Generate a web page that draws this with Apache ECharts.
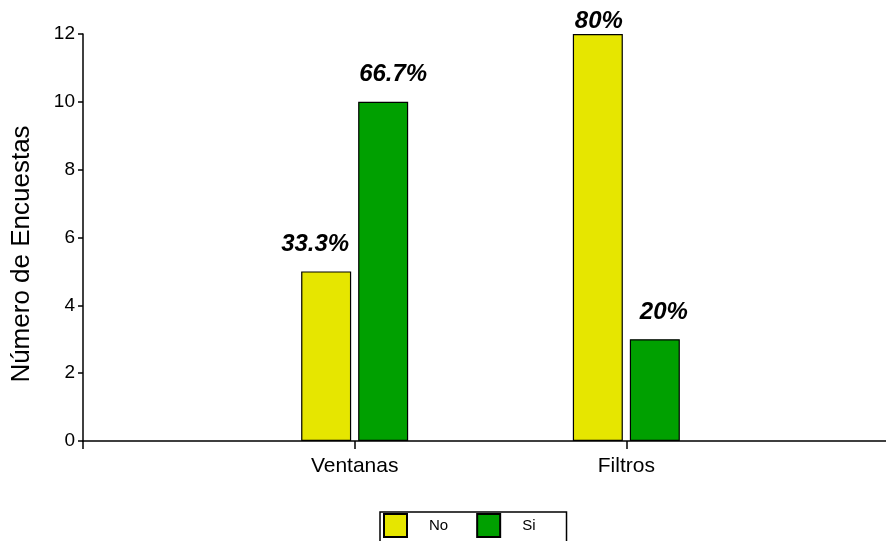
<!DOCTYPE html>
<html><head><meta charset="utf-8">
<script src="https://cdn.jsdelivr.net/npm/echarts@6/dist/echarts.min.js"></script>
<style>html,body{margin:0;padding:0;background:#fff}#c{width:886px;height:541px}</style>
</head><body><div id="c"></div>
<script>
var categories = ['', 'Ventanas', 'Filtros', ''];
var seriesNames = ['No', 'Si'];
var noValues = [null, 5, 12, null];
var siValues = [null, 10, 3, null];
var noPct = ['', '33.3%', '80%', ''];
var siPct = ['', '66.7%', '20%', ''];
var yTicks = [0, 2, 4, 6, 8, 10, 12];

var FONT = 'Liberation Sans';
var yMax = yTicks[yTicks.length - 1];

function build(vals, pcts, dx) {
  return vals.map(function (v, i) {
    if (v === null) return null;
    return { value: v, label: { distance: v >= yMax ? 1 : 15, offset: [dx[i], 0] }, pct: pcts[i] };
  });
}

var chart = echarts.init(document.getElementById('c'), null, { renderer: 'canvas' });
var labelStyle = {
  show: true, position: 'top', color: '#000',
  fontFamily: FONT, fontSize: 24, fontWeight: 'bold', fontStyle: 'italic',
  formatter: function (p) { return p.data.pct; }
};
chart.setOption({
  animation: false,
  backgroundColor: '#fff',
  grid: { left: 83, width: 815, top: 34, height: 407, containLabel: false, outerBoundsMode: 'none' },
  legend: {
    data: seriesNames,
    left: 380, top: 512,
    orient: 'horizontal',
    borderColor: '#000', borderWidth: 1.5,
    padding: [1, 31, 10, 3],
    itemWidth: 23, itemHeight: 23, itemGap: 28,
    icon: 'rect',
    textStyle: { fontFamily: FONT, fontSize: 15, color: '#000', padding: [0, 0, 0, 17] }
  },
  xAxis: {
    type: 'category', data: categories, boundaryGap: false,
    axisLine: { lineStyle: { color: '#000', width: 1.5 } },
    axisTick: { show: true, length: 8, lineStyle: { color: '#000', width: 1.5 } },
    axisLabel: { color: '#000', fontFamily: FONT, fontSize: 21, margin: 15, interval: 0 },
    splitLine: { show: false }
  },
  yAxis: {
    type: 'value', min: 0, max: yMax, interval: 2,
    axisLine: { show: true, lineStyle: { color: '#000', width: 1.5 } },
    axisTick: { show: true, length: 5, lineStyle: { color: '#000', width: 1.5 } },
    axisLabel: { color: '#000', fontFamily: FONT, fontSize: 19, margin: 8 },
    splitLine: { show: false }
  },
  graphic: [{
    type: 'text',
    x: 22, y: 254,
    rotation: Math.PI / 2,
    style: { text: 'Número de Encuestas', fill: '#000', font: '26px "Liberation Sans"', textAlign: 'center', textVerticalAlign: 'middle' }
  }],
  series: [
    {
      name: seriesNames[0], type: 'bar', barWidth: 50, barGap: '14%',
      data: build(noValues, noPct, [0, -11, 1, 0]),
      itemStyle: { color: '#E6E600', borderColor: '#000', borderWidth: 1.2 },
      label: labelStyle
    },
    {
      name: seriesNames[1], type: 'bar', barWidth: 50, barGap: '14%',
      data: build(siValues, siPct, [0, 10, 9, 0]),
      itemStyle: { color: '#00A000', borderColor: '#000', borderWidth: 1.2 },
      label: labelStyle
    }
  ]
});
</script></body></html>
